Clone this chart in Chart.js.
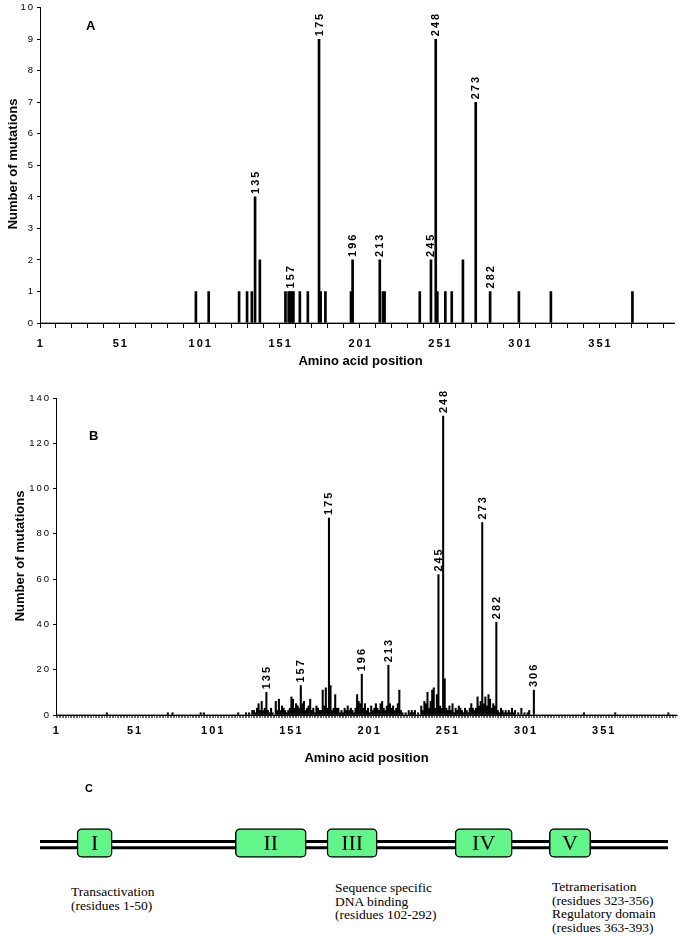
<!DOCTYPE html>
<html>
<head>
<meta charset="utf-8">
<script src="https://cdn.jsdelivr.net/npm/chart.js@4.4.1/dist/chart.umd.min.js"></script>
<style>
  body { margin: 0; background: #fff; width: 683px; height: 936px; position: relative; overflow: hidden;
         font-family: "Liberation Sans", Arial, sans-serif; color: #000; }
  .pane { position: absolute; left: 0; }
  .tag { position: absolute; font-weight: bold; font-size: 13px; line-height: 15px; }
  .xtitle { position: absolute; font-weight: bold; font-size: 13px; line-height: 15px; width: 683px; text-align: center; }
  .ytitle { position: absolute; font-weight: bold; font-size: 13px; white-space: nowrap;
            transform: translate(-50%, -50%) rotate(-90deg); }
  .note { position: absolute; font-family: "Liberation Serif", "Times New Roman", serif;
          font-size: 13.5px; line-height: 13.5px; white-space: nowrap; }
</style>
</head>
<body>
<div class="pane" style="top:0"><canvas id="chartA" width="683" height="370"></canvas></div>
<div class="pane" style="top:385px"><canvas id="chartB" width="683" height="360"></canvas></div>
<div class="pane" style="top:823px"><canvas id="chartC" width="683" height="40"></canvas></div>

<div class="tag" style="left:86px;top:18px">A</div>
<div class="tag" style="left:89px;top:428px">B</div>
<div class="tag" style="left:85px;top:781px;font-size:11px">C</div>

<div class="ytitle" style="left:12px;top:164px">Number of mutations</div>
<div class="ytitle" style="left:19px;top:556px">Number of mutations</div>
<div class="xtitle" style="top:353px;left:19px">Amino acid position</div>
<div class="xtitle" style="top:750px;left:25px">Amino acid position</div>

<div class="note" style="left:71px;top:885px">Transactivation<br>(residues 1-50)</div>
<div class="note" style="left:335px;top:881px">Sequence specific<br>DNA binding<br>(residues 102-292)</div>
<div class="note" style="left:552px;top:880px">Tetramerisation<br>(residues 323-356)<br>Regulatory domain<br>(residues 363-393)</div>

<script>
// categories: amino acid positions
const residueCount = 397;
const residues = Array.from({ length: residueCount }, (_, i) => String(i + 1));

// panel A: positions with mutations and their counts
const mutPosA   = [98, 106, 125, 130, 133, 135, 138, 154, 156, 157, 158, 159, 163, 168, 175, 176, 179,
                   195, 196, 213, 215, 216, 238, 245, 248, 249, 254, 258, 265, 273, 282, 300, 320, 371];
const mutCountA = [1, 1, 1, 1, 1, 4, 2, 1, 1, 1, 1, 1, 1, 1, 9, 1, 1,
                   1, 2, 2, 1, 1, 1, 2, 9, 1, 1, 1, 2, 7, 1, 1, 1, 1];
const peaksA = [135, 157, 175, 196, 213, 245, 248, 273, 282];

// panel B: positions with mutations and their counts
const mutPosB = [33, 72, 75, 93, 95, 117, 122, 124, 126, 127, 128, 129, 130, 131, 132, 133, 134, 135, 136, 137,
  138, 139, 141, 142, 143, 144, 145, 146, 147, 148, 149, 150, 151, 152, 153, 154, 155, 156, 157, 158,
  159, 160, 161, 162, 163, 164, 165, 166, 167, 168, 169, 170, 171, 172, 173, 174, 175, 176, 177, 178,
  179, 180, 181, 182, 183, 184, 185, 186, 187, 188, 189, 190, 191, 192, 193, 194, 195, 196, 197, 198,
  199, 200, 201, 202, 203, 204, 205, 206, 207, 208, 209, 210, 211, 212, 213, 214, 215, 216, 217, 218,
  219, 220, 221, 222, 224, 226, 227, 228, 229, 230, 232, 234, 235, 236, 237, 238, 239, 240, 241, 242,
  243, 244, 245, 246, 247, 248, 249, 250, 251, 252, 253, 254, 255, 256, 257, 258, 259, 260, 261, 262,
  263, 264, 265, 266, 267, 268, 269, 270, 271, 272, 273, 274, 275, 276, 277, 278, 279, 280, 281, 282,
  283, 284, 285, 286, 287, 288, 289, 290, 291, 292, 293, 294, 296, 298, 300, 302, 303, 306, 338, 358, 392];
const mutCountB = [1, 1, 1, 1, 1, 1, 1, 1, 2, 2, 1, 3, 5, 2, 6, 2, 3, 10, 2, 1,
  3, 1, 6, 2, 7, 2, 4, 3, 2, 1, 2, 3, 8, 7, 3, 5, 4, 3, 13, 5,
  6, 2, 3, 4, 7, 2, 3, 1, 4, 3, 2, 2, 11, 4, 12, 3, 87, 13, 2, 3,
  9, 3, 3, 1, 2, 1, 3, 2, 4, 2, 3, 2, 1, 3, 9, 6, 5, 18, 3, 5,
  2, 3, 1, 4, 2, 3, 5, 3, 2, 5, 6, 3, 2, 4, 22, 5, 3, 4, 2, 3,
  5, 11, 2, 1, 1, 2, 1, 2, 1, 2, 1, 4, 2, 6, 5, 10, 3, 6, 11, 12,
  3, 9, 62, 4, 3, 132, 16, 3, 2, 4, 2, 5, 1, 3, 2, 4, 3, 2, 1, 3,
  2, 1, 3, 5, 3, 2, 3, 8, 4, 6, 85, 5, 8, 4, 9, 7, 3, 5, 4, 41,
  2, 1, 3, 2, 1, 2, 1, 2, 1, 3, 1, 2, 1, 3, 1, 1, 2, 11, 1, 1, 1];
const peaksB = [135, 157, 175, 196, 213, 245, 248, 273, 282, 306];

// panel C: schematic domains (diagram units 0-100)
const domainNames = ['I', 'II', 'III', 'IV', 'V'];
const domainStart = [5.9, 31.1, 45.7, 66.1, 81.1];
const domainEnd   = [11.5, 42.4, 53.7, 75.2, 87.7];

function fillSeries(pos, counts) {
  const out = new Array(residueCount).fill(0);
  pos.forEach((p, i) => { out[p - 1] = counts[i]; });
  return out;
}

const FONT = '"Liberation Sans", Arial, sans-serif';

// rotated residue numbers above the main peaks
const peakLabels = {
  id: 'peakLabels',
  afterDatasetsDraw(chart, args, opts) {
    const ctx = chart.ctx;
    const meta = chart.getDatasetMeta(0);
    ctx.save();
    ctx.font = 'bold 11px ' + FONT;
    ctx.letterSpacing = '2px';
    ctx.fillStyle = '#000';
    ctx.textAlign = 'left';
    ctx.textBaseline = 'middle';
    opts.positions.forEach(p => {
      const bar = meta.data[p - 1];
      ctx.save();
      ctx.translate(bar.x + 0.5, bar.y - 3);
      ctx.rotate(-Math.PI / 2);
      ctx.fillText(String(p), 0, 0);
      ctx.restore();
    });
    ctx.restore();
  }
};

const spacedText = {
  id: 'spacedText',
  beforeDraw(chart) { chart.ctx.letterSpacing = '2px'; }
};

function histogram(id, data, peaks, opt) {
  return new Chart(document.getElementById(id), {
    type: 'bar',
    data: {
      labels: residues,
      datasets: [{ data: data, backgroundColor: '#000', barThickness: opt.bar }]
    },
    options: {
      responsive: false,
      animation: false,
      layout: { padding: { top: opt.top, right: 683 - opt.left - opt.width, left: 0, bottom: 0 } },
      plugins: { legend: { display: false }, tooltip: { enabled: false }, peakLabels: { positions: peaks } },
      scales: {
        x: {
          afterFit: s => { s.height = opt.xh; },
          border: { display: true, color: '#000', width: 1 },
          grid: {
            drawOnChartArea: false, drawTicks: true, tickLength: opt.tick,
            color: ctx => (ctx.index % opt.every === 0 ? '#000' : 'rgba(0,0,0,0)'),
            lineWidth: opt.tickW
          },
          ticks: {
            autoSkip: false, maxRotation: 0, minRotation: 0, padding: opt.tpad, color: '#000',
            font: { family: FONT, size: 11, weight: 'bold' },
            callback: (v, i) => (i % 50 === 0 ? residues[i] : '')
          }
        },
        y: {
          min: 0, max: opt.max,
          afterFit: s => { s.width = opt.left; },
          border: { display: true, color: '#000', width: 1 },
          grid: { drawOnChartArea: false, drawTicks: true, tickLength: 3, color: '#000' },
          ticks: { stepSize: opt.step, padding: 2, color: '#000', font: { family: FONT, size: 9.5 } }
        }
      }
    },
    plugins: [spacedText, peakLabels]
  });
}

histogram('chartA', fillSeries(mutPosA, mutCountA), peaksA,
  { left: 40, width: 640, top: 5, xh: 47, max: 10, step: 1, bar: 2, tick: 5, every: 10, tickW: 1, tpad: 9 });
histogram('chartB', fillSeries(mutPosB, mutCountB), peaksB,
  { left: 56, width: 621, top: 13, xh: 30, max: 140, step: 20, bar: 1.4, tick: 3, every: 1, tickW: 0.6, tpad: 6 });

// panel C: domain map
const domainDecor = {
  id: 'domainDecor',
  beforeDatasetsDraw(chart) {
    const ctx = chart.ctx;
    const x = chart.scales.x;
    const yc = chart.getDatasetMeta(0).data[0].y;
    ctx.save();
    ctx.strokeStyle = '#000';
    ctx.lineWidth = 3;
    [-1.5, 4.8].forEach(d => {
      ctx.beginPath();
      ctx.moveTo(x.getPixelForValue(0), yc + d);
      ctx.lineTo(x.getPixelForValue(100), yc + d);
      ctx.stroke();
    });
    ctx.restore();
  },
  afterDatasetsDraw(chart) {
    const ctx = chart.ctx;
    ctx.save();
    ctx.fillStyle = '#000';
    ctx.font = '22px "Liberation Serif", "Times New Roman", serif';
    ctx.textAlign = 'center';
    ctx.textBaseline = 'middle';
    domainNames.forEach((name, i) => {
      const el = chart.getDatasetMeta(i).data[0];
      ctx.fillText(name, (el.x + el.base) / 2, el.y + 1);
    });
    ctx.restore();
  }
};

new Chart(document.getElementById('chartC'), {
  type: 'bar',
  data: {
    labels: ['p53'],
    datasets: domainNames.map((n, i) => ({
      label: n,
      data: [[domainStart[i], domainEnd[i]]],
      backgroundColor: '#62f58a',
      borderColor: '#000',
      borderWidth: 1.5,
      borderRadius: 5,
      borderSkipped: false,
      barThickness: 29,
      grouped: false
    }))
  },
  options: {
    indexAxis: 'y',
    responsive: false,
    animation: false,
    layout: { padding: { left: 40, right: 15, top: 0, bottom: 0 } },
    plugins: { legend: { display: false }, tooltip: { enabled: false } },
    scales: {
      x: { type: 'linear', min: 0, max: 100, display: false },
      y: { display: false }
    }
  },
  plugins: [domainDecor]
});
</script>
</body>
</html>
